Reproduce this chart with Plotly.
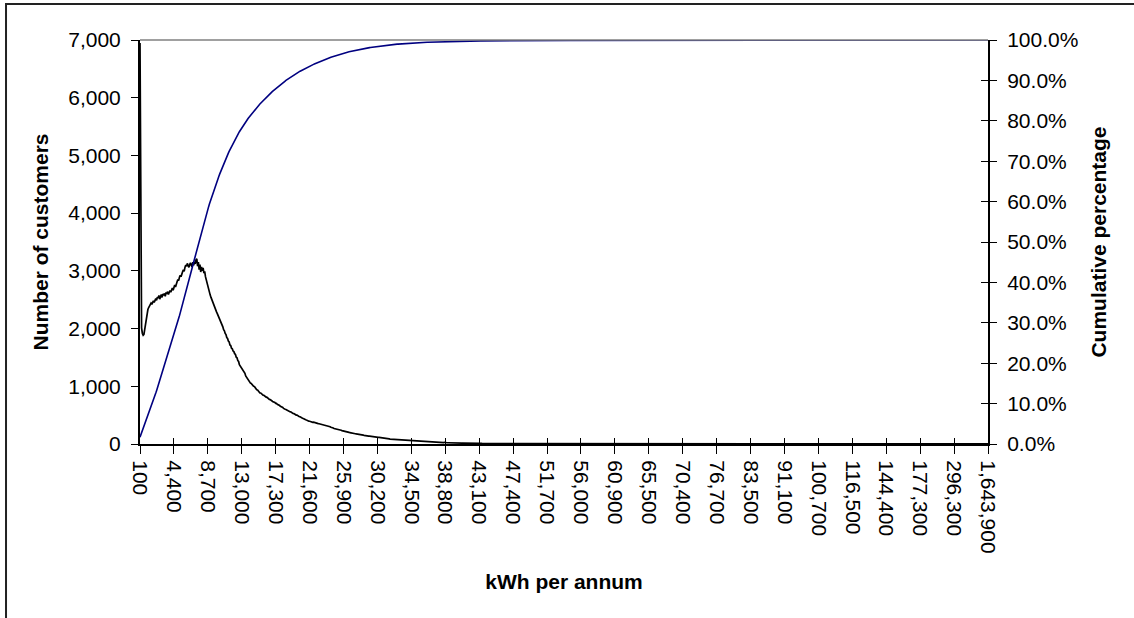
import plotly.graph_objects as go
import numpy as np

# Number of customers per 100 kWh bin
counts_rise = [
    6950, 2250, 2010, 1915, 1885, 1900, 1985, 2110, 2210, 2285,
    2330, 2365, 2390, 2405, 2440, 2420, 2460, 2480, 2455, 2500,
    2520, 2490, 2545, 2530, 2575, 2510, 2560, 2590, 2540, 2600,
    2575, 2610, 2560, 2625, 2600, 2640, 2590, 2615, 2660, 2630,
    2680, 2700, 2665, 2740, 2755, 2720, 2790, 2810, 2850, 2830,
    2890, 2925, 2900, 2960, 2985, 3020, 2990, 3060, 3100, 3080,
    3130, 3090, 3060, 3110, 3140, 3100, 3070, 3150, 3095, 3160,
    3120, 3190, 3210, 3080, 3150, 3020, 3110, 2980, 3070, 3000,
    3050, 2960, 2990, 2900, 2840, 2790, 2730, 2690, 2640, 2580,
    2540, 2500, 2470, 2420, 2380, 2350, 2320, 2290, 2260, 2230,
]
counts_fall = [
    2200, 2175, 2130, 2105, 2055, 2030, 1980, 1960, 1915, 1895,
    1845, 1830, 1785, 1770, 1715, 1705, 1660, 1650, 1610, 1600,
    1565, 1550, 1505, 1495, 1445, 1430, 1375, 1355, 1315, 1305,
    1280, 1270, 1235, 1225, 1180, 1160, 1125, 1120, 1085, 1080,
    1055, 1050, 1025, 1025, 1000, 995, 970, 968, 940, 935,
    912, 905, 885, 884, 866, 862, 846, 845, 828, 826,
    812, 808, 792, 790, 772, 770, 752, 750, 738, 735,
    722, 720, 703, 705, 688, 684, 668, 666, 652, 650,
    636, 633, 616, 615, 601, 598, 588, 582, 571, 568,
    558, 556, 542, 541, 529, 527, 515, 513, 501, 500,
    487, 485, 473, 472, 459, 455, 447, 442, 430, 428,
    419, 416, 406, 405, 395, 394, 386, 385, 376, 376,
    378, 372, 370, 365, 362, 358, 354, 351, 348, 344,
    340, 338, 332, 330, 324, 322, 316, 315, 308, 306,
    300, 298, 290, 289, 280, 276, 268, 266, 260, 257,
    252, 250, 246, 244, 240, 238, 232, 230, 226, 224,
    219, 218, 211, 210, 204, 202, 196, 195, 190, 189,
    184, 183, 178, 178, 174, 173, 170, 169, 166, 165,
    161, 160, 156, 155, 150, 150, 145, 145, 141, 140,
    137, 136, 133, 132, 129, 128, 125, 124, 121, 120,
]
counts_tail = [
    118, 117, 116, 114, 113, 110, 109, 106, 105, 102,
    101, 98, 97, 94, 93, 90, 89, 86, 85, 83,
    82, 80, 79, 77, 76, 74, 73, 71, 71, 69,
    69, 67, 66, 64, 64, 62, 61, 59, 59, 57,
    57, 55, 55, 53, 58, 51, 51, 49, 49, 47,
    47, 45, 45, 43, 43, 42, 41, 40, 39, 38,
    37, 36, 36, 35, 34, 34, 33, 33, 32, 31,
    31, 30, 30, 29, 29, 28, 28, 27, 27, 26,
    26, 25, 25, 24, 24, 23, 30, 23, 22, 22,
    22, 21, 21, 21, 20, 20, 20, 19, 19, 19,
    19, 18, 18, 18, 17, 17, 17, 16, 16, 16,
    15, 15, 15, 14, 14, 14, 14, 13, 13, 13,
    13, 12, 12, 12, 12, 11, 11, 11, 11, 10,
    10, 10, 16, 10, 9, 9, 9, 9, 9, 8,
    8, 8, 8, 8, 8, 7, 7, 7, 7, 7,
    7, 7, 6, 6, 6, 6, 6, 11, 6, 5,
    5, 5, 5, 5, 5, 5, 5, 4, 4, 4,
    4, 4, 4, 4, 4, 4, 3, 3, 3, 3,
    3, 3, 3, 3, 3, 3, 3, 3, 2, 2,
    2, 2, 2, 2, 2, 2, 2, 2, 2, 2,
    2, 2, 1, 2, 2, 1, 2, 2, 1, 2,
    2, 1, 2, 1, 2, 2, 1, 1, 2, 1,
    2, 1, 1, 2, 1, 1, 2, 1, 1, 1,
    2, 1, 1, 1, 2, 1, 1, 1, 1, 2,
    1, 1, 1, 2, 1, 1, 1, 1, 1, 1,
    1, 2, 1, 1, 1, 1, 1, 1, 2, 1,
]
# bins above 56,000 kWh (only non-empty bins are listed), 43 per row
counts_sparse = [
    2, 1, 1, 2, 1, 1, 1, 2, 1, 1, 1, 1, 2, 1, 1, 1, 1, 1, 2, 1, 1, 1, 1, 1, 2, 1, 1, 1, 1, 1, 1, 2, 1, 1, 1, 1, 1, 1, 1, 1, 2, 1, 1,
    1, 1, 2, 1, 1, 1, 1, 1, 1, 1, 2, 1, 1, 1, 1, 1, 1, 1, 1, 2, 1, 1, 1, 1, 1, 1, 1, 1, 1, 1, 2, 1, 1, 1, 1, 1, 1, 1, 1, 1, 1, 1, 1,
    1, 1, 1, 1, 1, 2, 1, 1, 1, 1, 1, 1, 1, 1, 1, 1, 1, 1, 2, 1, 1, 1, 1, 1, 1, 1, 1, 1, 1, 1, 1, 1, 1, 1, 1, 2, 1, 1, 1, 1, 1, 1, 1,
    1, 1, 1, 1, 1, 1, 1, 1, 1, 1, 1, 1, 1, 2, 1, 1, 1, 1, 1, 1, 1, 1, 1, 1, 1, 1, 1, 1, 1, 1, 1, 1, 1, 1, 1, 1, 1, 1, 1, 1, 1, 1, 1,
    1, 1, 1, 1, 1, 1, 1, 1, 1, 1, 1, 1, 1, 1, 1, 1, 1, 1, 1, 1, 1, 1, 1, 1, 1, 1, 1, 1, 1, 1, 1, 1, 1, 1, 1, 1, 1, 1, 1, 1, 1, 1, 1,
    1, 1, 1, 1, 1, 1, 1, 1, 1, 1, 1, 1, 1, 1, 1, 1, 1, 1, 1, 1, 1, 1, 1, 1, 1, 1, 1, 1, 1, 1, 1, 1, 1, 1, 1, 1, 1, 1, 1, 1, 1, 1, 1,
    1, 1, 1, 1, 1, 1, 1, 1, 1, 1, 1, 1, 1, 1, 1, 1, 1, 1, 1, 1, 1, 1, 1, 1, 1, 1, 1, 1, 1, 1, 1, 1, 1, 1, 1, 1, 1, 1, 1, 1, 1, 1, 1,
    1, 1, 1, 1, 1, 1, 1, 1, 1, 1, 1, 1, 1, 1, 1, 1, 1, 1, 1, 1, 1, 1, 1, 1, 1, 1, 1, 1, 1, 1, 1, 1, 1, 1, 1, 1, 1, 1, 1, 1, 1, 1, 1,
    1, 1, 1, 1, 1, 1, 1, 1, 1, 1, 1, 1, 1, 1, 1, 1, 1, 1, 1, 1, 1, 1, 1, 1, 1, 1, 1, 1, 1, 1, 1, 1, 1, 1, 1, 1, 1, 1, 1, 1, 1, 1, 1,
    1, 1, 1, 1, 1, 1, 1, 1, 1, 1, 1, 1, 1, 1, 1, 1, 1, 1, 1, 1, 1, 1, 1, 1, 1, 1, 1, 1, 1, 1, 1, 1, 1, 1, 1, 1, 1, 1, 1, 1, 1, 1, 1,
    1, 1, 1, 1, 1, 1, 1, 1, 1, 1, 1, 1, 1, 1, 1, 1, 1, 1, 1, 1, 1, 1, 1, 1, 1, 1, 1, 1, 1, 1, 1, 1, 1, 1, 1, 1, 1, 1, 1, 1, 1, 1, 1,
    1, 1, 1, 1, 1, 1, 1, 1, 1, 1, 1, 1, 1, 1, 1, 1, 1, 1, 1, 1, 1, 1, 1, 1, 1, 1, 1, 1, 1, 1, 1, 1, 1, 1, 1, 1, 1, 1, 1, 1, 1, 1, 1,
]

tick_labels = [
    "100", "4,400", "8,700", "13,000", "17,300", "21,600", "25,900", "30,200",
    "34,500", "38,800", "43,100", "47,400", "51,700", "56,000", "60,900",
    "65,500", "70,400", "76,700", "83,500", "91,100", "100,700", "116,500",
    "144,400", "177,300", "296,300", "1,643,900",
]
tick_step = 43  # a label on every 43rd bin

counts = np.array(counts_rise + counts_fall + counts_tail + counts_sparse, dtype=float)
n = len(counts)
xs = np.arange(n)
cum = np.cumsum(counts) / counts.sum()

tickvals = [min(i * tick_step, n - 1) for i in range(len(tick_labels))]
tickvals[-1] = n - 1

FONT = "Liberation Sans, Arial, sans-serif"
tickfont = dict(family=FONT, size=21, color="black")
titlefont = dict(family=FONT, size=21, color="black")

fig = go.Figure()
fig.add_trace(go.Scatter(x=xs, y=counts, mode="lines",
                         line=dict(color="black", width=1.7),
                         xaxis="x", yaxis="y", hoverinfo="skip"))
fig.add_trace(go.Scatter(x=xs, y=cum, mode="lines",
                         line=dict(color="#000080", width=1.6),
                         xaxis="x", yaxis="y2", hoverinfo="skip"))
# helper trace so the inner-tick overlay axes render
fig.add_trace(go.Scatter(x=[0], y=[0], mode="markers", marker=dict(opacity=0),
                         xaxis="x2", yaxis="y3", hoverinfo="skip"))

fig.update_layout(
    width=1134, height=618, autosize=False,
    margin=dict(l=140, r=146, t=40, b=174),
    paper_bgcolor="white", plot_bgcolor="white",
    showlegend=False,
    xaxis=dict(range=[0, n - 1], tickmode="array", tickvals=tickvals, ticktext=tick_labels,
               tickangle=90, ticks="outside", ticklen=8, tickwidth=1, tickcolor="black",
               showline=True, linecolor="black", linewidth=2, showgrid=False, zeroline=False,
               tickfont=tickfont, ticklabelstandoff=2,
               title=dict(text="<b>kWh per annum</b>", font=titlefont, standoff=22)),
    xaxis2=dict(range=[0, n - 1], overlaying="x", anchor="y", side="bottom",
                tickmode="array", tickvals=tickvals, ticks="inside", ticklen=6, tickwidth=1,
                tickcolor="black", showticklabels=False, showline=False, showgrid=False,
                zeroline=False),
    yaxis=dict(range=[0, 7000], tickmode="linear", tick0=0, dtick=1000, tickformat=",d",
               ticks="outside", ticklen=7, tickwidth=1, tickcolor="black",
               showline=True, linecolor="black", linewidth=2, showgrid=False, zeroline=False,
               tickfont=tickfont, ticklabelstandoff=6,
               title=dict(text="<b>Number of customers</b>", font=titlefont, standoff=14)),
    yaxis2=dict(range=[0, 1], overlaying="y", side="right", anchor="x",
                tickmode="linear", tick0=0, dtick=0.1, tickformat=".1%",
                ticks="outside", ticklen=7, tickwidth=1, tickcolor="black",
                showline=True, linecolor="black", linewidth=2, showgrid=False, zeroline=False,
                tickfont=tickfont, ticklabelstandoff=6,
                title=dict(text="<b>Cumulative percentage</b>", font=titlefont, standoff=14)),
    yaxis3=dict(range=[0, 1], overlaying="y", side="right", anchor="x2",
                tickmode="linear", tick0=0, dtick=0.1, ticks="inside", ticklen=7, tickwidth=1,
                tickcolor="black", showticklabels=False, showline=False, showgrid=False,
                zeroline=False),
    shapes=[
        dict(type="line", xref="paper", yref="paper", x0=0, x1=1, y0=1, y1=1,
             line=dict(color="#808080", width=1.5)),
        dict(type="rect", xref="paper", yref="paper", x0=-0.158, x1=1.3, y0=-0.7, y1=1.089,
             line=dict(color="#222222", width=2), fillcolor="rgba(0,0,0,0)"),
    ],
)

fig.write_html("out.html",
               config={"displayModeBar": False, "staticPlot": True},
               post_script="document.body.style.margin='0';document.body.style.overflow='hidden';")
